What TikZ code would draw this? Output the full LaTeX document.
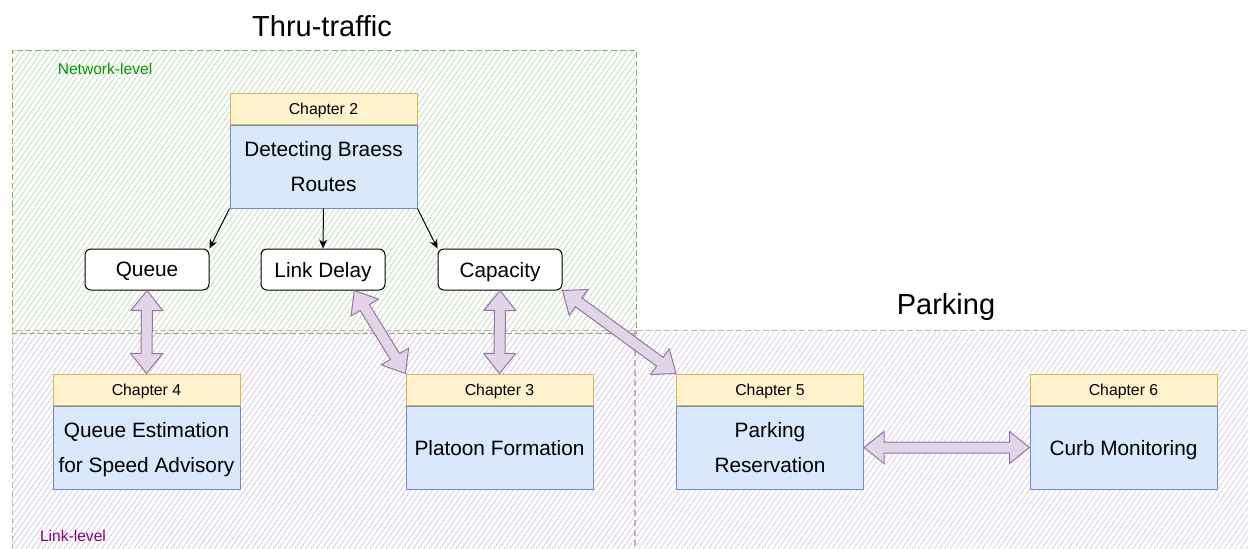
\documentclass[tikz,border=0pt]{standalone}
\usepackage{fontspec}
\setmainfont{Liberation Sans}
\usepackage{xcolor}
\usetikzlibrary{positioning,calc,patterns.meta,arrows.meta}

\definecolor{headfill}{HTML}{FFF2CC}
\definecolor{headline}{HTML}{D6B656}
\definecolor{bodyfill}{HTML}{DAE8FC}
\definecolor{bodyline}{HTML}{6C8EBF}
\definecolor{netline}{HTML}{82B366}
\definecolor{nethatch}{HTML}{BFD5B3}
\definecolor{nettext}{HTML}{009900}
\definecolor{linkline}{HTML}{D3A5C4}
\definecolor{linkhatch}{HTML}{CFC1DB}
\definecolor{parkhatch}{HTML}{D6CAE1}
\definecolor{linktext}{HTML}{800080}
\definecolor{arrowfill}{HTML}{E1D5E7}
\definecolor{arrowline}{HTML}{9673A6}

% block arrow with a head at each end
\newcommand{\dualarrow}[2]{%
  \draw[dualarrow] (#1)
    -- ($(#1)!10pt!(#2)!8pt!90:(#2)$) -- ($(#1)!10pt!(#2)!2.75pt!90:(#2)$)
    -- ($(#2)!10pt!(#1)!2.75pt!-90:(#1)$) -- ($(#2)!10pt!(#1)!8pt!-90:(#1)$)
    -- (#2)
    -- ($(#2)!10pt!(#1)!8pt!90:(#1)$) -- ($(#2)!10pt!(#1)!2.75pt!90:(#1)$)
    -- ($(#1)!10pt!(#2)!2.75pt!-90:(#2)$) -- ($(#1)!10pt!(#2)!8pt!-90:(#2)$)
    -- cycle;}

\begin{document}
\begin{tikzpicture}[x=0.5pt, y=-0.5pt,
    chapterhead/.style={draw=headline, fill=headfill, line width=0.5pt, minimum width=93.5pt, minimum height=15.5pt, inner sep=0pt, text depth=0pt, font=\fontsize{7.9}{9}\selectfont},
    chapterbody/.style={draw=bodyline, fill=bodyfill, line width=0.5pt, minimum width=93.5pt, minimum height=41.5pt, inner sep=0pt, text depth=-2pt, align=center, font=\fontsize{10.4}{17.5}\selectfont},
    metric/.style={draw, fill=white, line width=0.5pt, rounded corners=3pt, minimum width=62pt, minimum height=20.5pt, inner sep=0pt, text depth=0pt, font=\fontsize{10.4}{12}\selectfont},
    hatch/.style={pattern={Lines[angle=55, distance=2.2pt, line width=0.35pt]}},
    dualarrow/.style={draw=arrowline, fill=arrowfill, line width=0.5pt, line join=miter},
    thin arrow/.style={-{Stealth[length=4.5pt, width=4pt]}, line width=0.5pt}]
    \useasboundingbox (0,0) rectangle (1248,548);

    % Regions
    \fill[hatch, pattern color=nethatch] (12,50) rectangle (636,332);
    \fill[hatch, pattern color=linkhatch] (12,332) rectangle (636,560);
    \fill[hatch, pattern color=parkhatch] (636,332) rectangle (1260,560);
    \draw[netline, line width=0.5pt, dash pattern=on 3pt off 1.5pt] (12,333) -- (12,50) -- (636,50) -- (636,333) -- cycle;
    \draw[linkline, line width=0.5pt, dash pattern=on 3pt off 1.5pt] (12,560) -- (12,330) -- (1260,330);
    \draw[linkline, line width=1pt, dash pattern=on 3pt off 2pt] (635,330) -- (635,560);

    % Titles and level labels
    \node (thru) at (322,26) {\fontsize{14.5}{16}\selectfont Thru-traffic};
    \node (parking) at (946,307) {\fontsize{14.5}{16}\selectfont Parking};
    \node[text=nettext, font=\fontsize{7.8}{9}\selectfont] (network) at (105,69) {Network-level};
    \node[text=linktext, font=\fontsize{7.8}{9}\selectfont] (link) at (73,536) {Link-level};

    % Chapters
    \node[chapterhead] (ch2h) at (323.5,108.5) {Chapter 2};
    \node[chapterbody, below=0pt of ch2h] (ch2) {Detecting Braess\\Routes};
    \node[chapterhead] (ch4h) at (146.5,389.5) {Chapter 4};
    \node[chapterbody, below=0pt of ch4h] (ch4) {Queue Estimation\\for Speed Advisory};
    \node[chapterhead] (ch3h) at (499.5,389.5) {Chapter 3};
    \node[chapterbody, below=0pt of ch3h] (ch3) {Platoon Formation};
    \node[chapterhead] (ch5h) at (770,389.5) {Chapter 5};
    \node[chapterbody, below=0pt of ch5h] (ch5) {Parking\\Reservation};
    \node[chapterhead] (ch6h) at (1123.5,389.5) {Chapter 6};
    \node[chapterbody, below=0pt of ch6h] (ch6) {Curb Monitoring};

    % Measures
    \node[metric] (queue) at (147,269.5) {Queue};
    \node[metric] (delay) at (323,269.5) {Link Delay};
    \node[metric] (cap) at (500,269.5) {Capacity};

    \draw[thin arrow] (ch2.south west) -- (queue.north east);
    \draw[thin arrow] (ch2.south) -- (delay.north);
    \draw[thin arrow] (ch2.south east) -- (cap.north west);

    % Links between measures and chapters
    \coordinate (delayfoot) at ($(delay.south)!0.5!(delay.south east)$);
    \dualarrow{queue.south}{ch4h.north}
    \dualarrow{delayfoot}{ch3h.north west}
    \dualarrow{cap.south}{ch3h.north}
    \dualarrow{cap.south east}{ch5h.north west}
    \dualarrow{ch5.east}{ch6.west}
\end{tikzpicture}
\end{document}
